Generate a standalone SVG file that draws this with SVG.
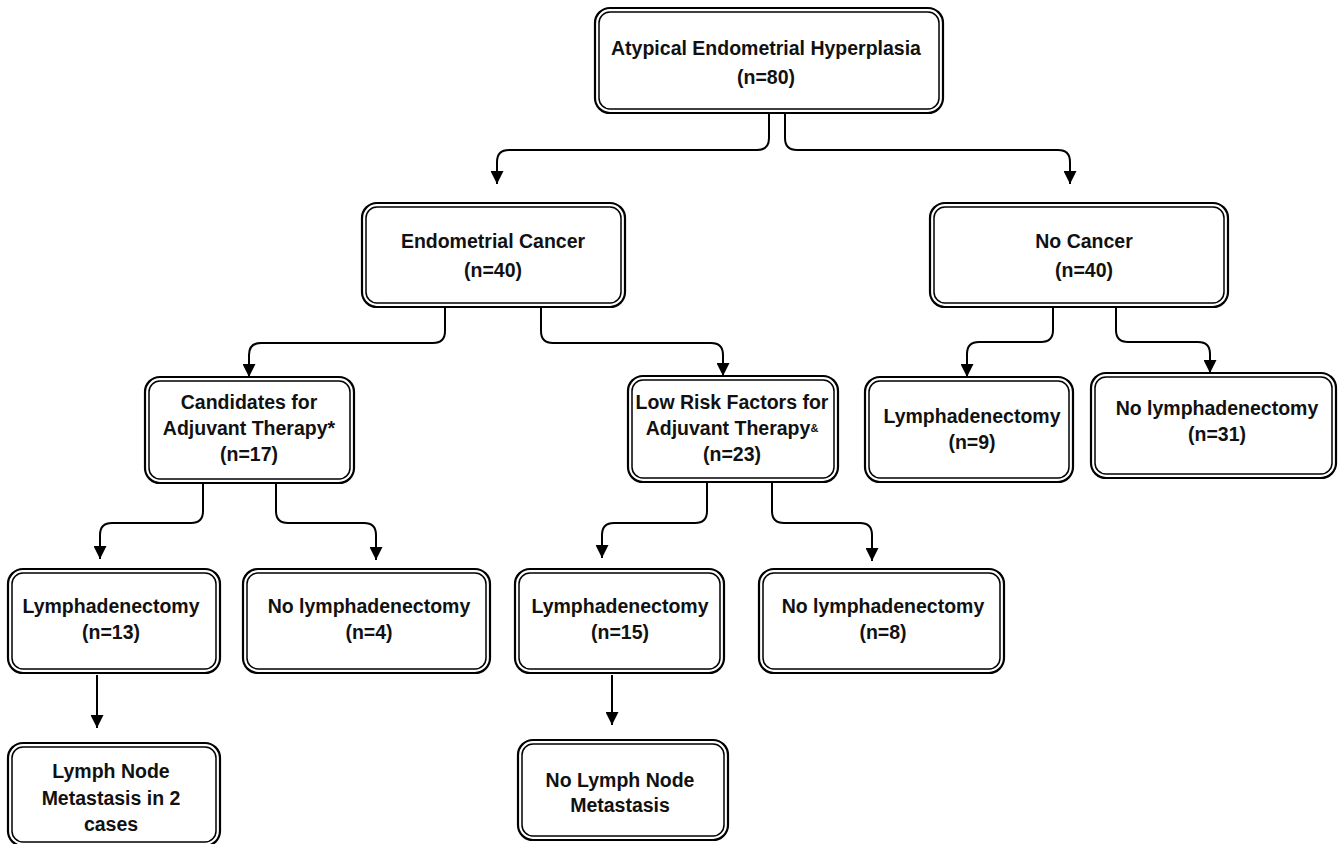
<svg xmlns="http://www.w3.org/2000/svg" width="1338" height="844" viewBox="0 0 1338 844">
<style>
.o{fill:#fff;stroke:#000;stroke-width:2.2}
.i{fill:none;stroke:#000;stroke-width:1.5}
text{font-family:"Liberation Sans",Arial,sans-serif;font-weight:bold;font-size:19.5px;fill:#111;text-anchor:middle}
.sup{font-size:11px}
.c{fill:none;stroke:#000;stroke-width:2;marker-end:url(#ah)}
</style>
<defs>
<marker id="ah" markerUnits="userSpaceOnUse" viewBox="0 0 13 13" refX="13" refY="6.5" markerWidth="13" markerHeight="13" orient="auto">
<path d="M0,0 L13,6.5 L0,13 z" fill="#000"/>
</marker>
</defs>
<rect width="1338" height="844" fill="#fff"/>
<g id="connectors">
<path class="c" d="M769,113 V138 Q769,150 757,150 H509 Q497,150 497,162 V184"/>
<path class="c" d="M785,113 V138 Q785,150 797,150 H1058 Q1070,150 1070,162 V184"/>
<path class="c" d="M445,307 V331 Q445,343 433,343 H261 Q249,343 249,355 V377"/>
<path class="c" d="M541,307 V331 Q541,343 553,343 H711 Q723,343 723,355 V376"/>
<path class="c" d="M1053,307 V330 Q1053,342 1041,342 H979 Q967,342 967,354 V377"/>
<path class="c" d="M1116,307 V330 Q1116,342 1128,342 H1198 Q1210,342 1210,354 V373"/>
<path class="c" d="M203,483 V511 Q203,523 191,523 H112 Q100,523 100,535 V559"/>
<path class="c" d="M276,483 V511 Q276,523 288,523 H364 Q376,523 376,535 V560"/>
<path class="c" d="M707,482 V511 Q707,523 695,523 H614 Q602,523 602,535 V558"/>
<path class="c" d="M772,482 V511 Q772,523 784,523 H860 Q872,523 872,535 V561"/>
<path class="c" d="M97,675 V728"/>
<path class="c" d="M612,675 V725"/>
</g>
<g id="n-aeh">
<rect class="o" x="595" y="8" width="348" height="105" rx="15"/>
<rect class="i" x="599" y="12" width="340" height="97" rx="11"/>
<text x="766" y="55">Atypical Endometrial Hyperplasia</text>
<text x="766" y="84">(n=80)</text>
</g>
<g id="n-ec">
<rect class="o" x="362" y="203" width="263" height="104" rx="15"/>
<rect class="i" x="366" y="207" width="255" height="96" rx="11"/>
<text x="493" y="248">Endometrial Cancer</text>
<text x="493" y="277">(n=40)</text>
</g>
<g id="n-nc">
<rect class="o" x="930" y="203" width="298" height="104" rx="15"/>
<rect class="i" x="934" y="207" width="290" height="96" rx="11"/>
<text x="1084" y="248">No Cancer</text>
<text x="1084" y="277">(n=40)</text>
</g>
<g id="n-cand">
<rect class="o" x="145" y="377" width="209" height="106" rx="15"/>
<rect class="i" x="149" y="381" width="201" height="98" rx="11"/>
<text x="249" y="409">Candidates for</text>
<text x="249" y="435">Adjuvant Therapy*</text>
<text x="249" y="461">(n=17)</text>
</g>
<g id="n-low">
<rect class="o" x="628" y="376" width="210" height="106" rx="15"/>
<rect class="i" x="632" y="380" width="202" height="98" rx="11"/>
<text x="732" y="409">Low Risk Factors for</text>
<text x="732" y="435">Adjuvant Therapy<tspan class="sup" dy="-3">&amp;</tspan></text>
<text x="732" y="461">(n=23)</text>
</g>
<g id="n-l9">
<rect class="o" x="865" y="377" width="208" height="105" rx="15"/>
<rect class="i" x="869" y="381" width="200" height="97" rx="11"/>
<text x="972" y="423">Lymphadenectomy</text>
<text x="972" y="449">(n=9)</text>
</g>
<g id="n-nl31">
<rect class="o" x="1091" y="373" width="245" height="105" rx="15"/>
<rect class="i" x="1095" y="377" width="237" height="97" rx="11"/>
<text x="1217" y="415">No lymphadenectomy</text>
<text x="1217" y="441">(n=31)</text>
</g>
<g id="n-l13">
<rect class="o" x="8" y="569" width="212" height="104" rx="15"/>
<rect class="i" x="12" y="573" width="204" height="96" rx="11"/>
<text x="111" y="613">Lymphadenectomy</text>
<text x="111" y="639">(n=13)</text>
</g>
<g id="n-nl4">
<rect class="o" x="243" y="569" width="247" height="104" rx="15"/>
<rect class="i" x="247" y="573" width="239" height="96" rx="11"/>
<text x="369" y="613">No lymphadenectomy</text>
<text x="369" y="639">(n=4)</text>
</g>
<g id="n-l15">
<rect class="o" x="515" y="569" width="209" height="104" rx="15"/>
<rect class="i" x="519" y="573" width="201" height="96" rx="11"/>
<text x="620" y="613">Lymphadenectomy</text>
<text x="620" y="639">(n=15)</text>
</g>
<g id="n-nl8">
<rect class="o" x="759" y="569" width="245" height="104" rx="15"/>
<rect class="i" x="763" y="573" width="237" height="96" rx="11"/>
<text x="883" y="613">No lymphadenectomy</text>
<text x="883" y="639">(n=8)</text>
</g>
<g id="n-lnm">
<rect class="o" x="8" y="743" width="212" height="103" rx="15"/>
<rect class="i" x="12" y="747" width="204" height="95" rx="11"/>
<text x="111" y="778">Lymph Node</text>
<text x="111" y="805">Metastasis in 2</text>
<text x="111" y="831">cases</text>
</g>
<g id="n-nolnm">
<rect class="o" x="518" y="740" width="210" height="100" rx="15"/>
<rect class="i" x="522" y="744" width="202" height="92" rx="11"/>
<text x="620" y="787">No Lymph Node</text>
<text x="620" y="812">Metastasis</text>
</g>
</svg>
